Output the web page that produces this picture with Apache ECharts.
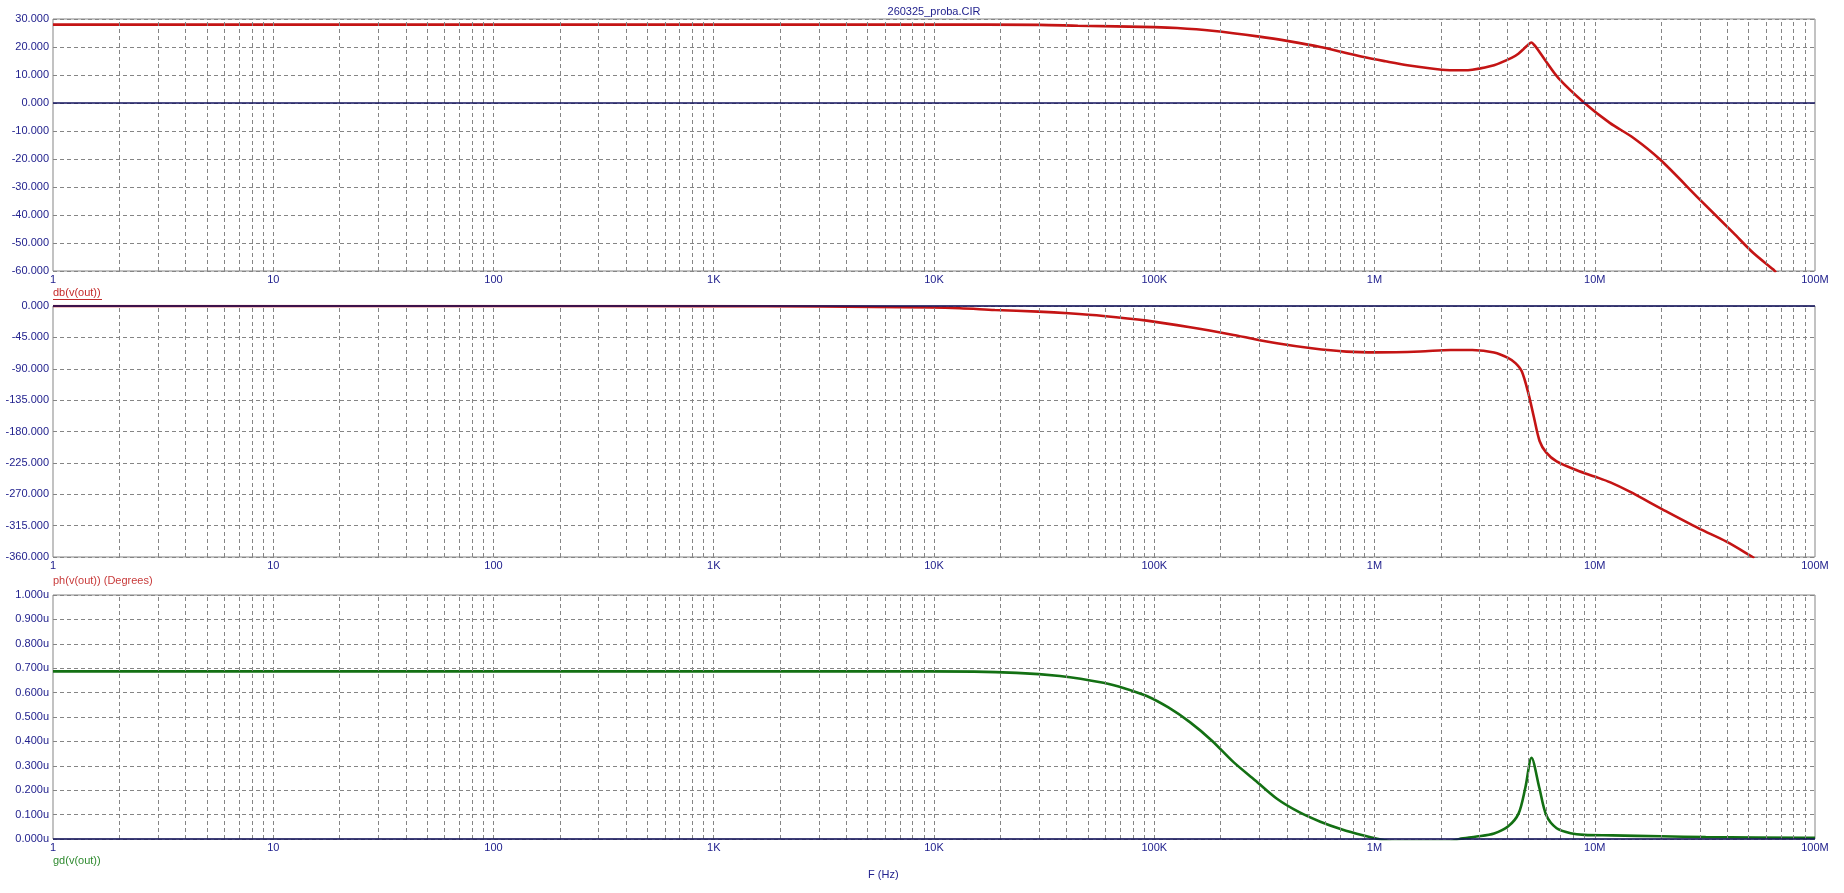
<!DOCTYPE html>
<html><head><meta charset="utf-8">
<script src="https://cdn.jsdelivr.net/npm/echarts@6/dist/echarts.min.js"></script>
<style>html,body{margin:0;padding:0;background:#fff}#c{width:1844px;height:893px}</style>
</head><body><div id="c"></div>
<script>
// ---------- data ----------
const chartTitle = '260325_proba.CIR';
const xTickLabels = ['1','10','100','1K','10K','100K','1M','10M','100M'];
const xAxisTitle = 'F (Hz)';
const traceNames = ['db(v(out))', 'ph(v(out)) (Degrees)', 'gd(v(out))'];

// magnitude, dB
const magFreq = [1, 10, 100, 1000, 10000, 30000, 45000, 100000, 127000, 183000, 300000, 413000, 568000, 713000, 893000, 1120000, 1410000, 2020000, 2500000, 2780000, 3490000, 4190000, 4500000, 4800000, 5000000, 5150000, 5300000, 5500000, 6000000, 6840000, 8900000, 11700000, 15000000, 19800000, 30000000, 42600000, 52500000, 64700000, 66500000];
const magDb   = [28.0, 28.0, 28.0, 28.0, 28.0, 27.9, 27.6, 27.1, 26.8, 25.8, 23.7, 22.0, 20.0, 18.2, 16.4, 14.9, 13.5, 11.9, 11.7, 11.9, 13.5, 16.1, 17.6, 19.6, 20.9, 21.6, 20.8, 19.2, 14.9, 8.9, 0.3, -7.1, -12.5, -20.2, -34.5, -46.4, -53.6, -59.5, -60.5];

// phase, degrees
const phFreq = [1, 100, 1000, 3000, 9550, 13120, 18880, 29720, 40830, 58750, 92470, 145600, 229100, 360600, 518800, 746400, 1026000, 1614000, 2218000, 2780000, 3491000, 4036000, 4365000, 4667000, 5012000, 5297000, 5623000, 6012000, 6714000, 8337000, 10070000, 11780000, 14350000, 20650000, 29650000, 39630000, 52120000, 53000000];
const phDeg  = [0.0, -0.02, -0.25, -0.7, -2.2, -3.3, -5.7, -8.1, -10.5, -14.3, -21.0, -30.5, -41.5, -53.5, -60.6, -65.4, -66.5, -65.2, -63.0, -63.2, -66.8, -74.5, -82.0, -94.0, -127.0, -160.0, -194.0, -210.0, -223.0, -236.0, -245.0, -253.0, -266.0, -293.0, -319.0, -338.0, -360.0, -361.5];

// group delay, microseconds
const gdFreq = [1, 1000, 9550, 23700, 37300, 58750, 73600, 92470, 115900, 145600, 182800, 229100, 287700, 360600, 452900, 567500, 712800, 893300, 1026000, 1200000, 2200000, 2427000, 2911000, 3491000, 4036000, 4508000, 4842000, 5164000, 5598000, 6026000, 6714000, 7762000, 8970000, 12000000, 19950000, 31900000, 91200000, 100000000];
const gdUs   = [0.687, 0.687, 0.687, 0.681, 0.668, 0.640, 0.617, 0.586, 0.539, 0.478, 0.403, 0.315, 0.240, 0.165, 0.111, 0.071, 0.039, 0.014, 0.001, -0.01, -0.01, 0.0, 0.010, 0.023, 0.051, 0.104, 0.211, 0.333, 0.211, 0.097, 0.044, 0.024, 0.017, 0.015, 0.011, 0.008, 0.005, 0.005];

// y-axis ranges
const yMin = [-60, -360, 0];
const yMax = [30, 0, 1];
const yStep = [10, 45, 0.1];
const ySuffix = ['', '', 'u'];

// ---------- styling ----------
const NAVY = '#22228e';
const ZERO = '#12125e';
const GRIDC = '#858585';
const RED = '#c41414';
const GREEN = '#137013';
const FONT = '"Liberation Sans", Arial, sans-serif';

const gridBoxes = [
  {top: 19, height: 252},
  {top: 306, height: 251},
  {top: 595, height: 244}
];
const LEFT = 53, RIGHT = 1844 - 1815;

// vertical grid lines (1..9 per decade) at real frequencies, drawn through the log axis
const vLines = [];
for (let k = 0; k < 8; k++) {
  for (let m = 1; m <= 9; m++) {
    const v = m * Math.pow(10, k);
    if (v > 1) vLines.push(v);
  }
}

const zip = (a, b) => a.map((v, i) => [v, b[i]]);

const grids = gridBoxes.map(g => ({
  left: LEFT, right: RIGHT, top: g.top, height: g.height,
  show: true, borderColor: GRIDC, borderWidth: 1, backgroundColor: '#fff',
  containLabel: false, outerBoundsMode: 'none'
}));

const xAxes = gridBoxes.map((g, i) => ({
  type: 'log', logBase: 10, gridIndex: i, min: 1, max: 1e8, splitNumber: 8,
  axisLine: {show: false}, axisTick: {show: false}, splitLine: {show: false},
  axisLabel: {
    show: true, color: NAVY, fontSize: 11, fontFamily: FONT, margin: 3,
    showMinLabel: true, showMaxLabel: true,
    formatter: v => xTickLabels[Math.round(Math.log10(v))] || ''
  }
}));

const yAxes = gridBoxes.map((g, i) => ({
  type: 'value', gridIndex: i, min: yMin[i], max: yMax[i], interval: yStep[i],
  axisLine: {show: false}, axisTick: {show: false},
  splitLine: {show: true, lineStyle: {color: GRIDC, width: 1, type: [4, 3]}},
  axisLabel: {
    color: NAVY, fontSize: 11, fontFamily: FONT, margin: 4,
    formatter: v => v.toFixed(3) + ySuffix[i]
  }
}));

const gridSeries = gridBoxes.map((g, i) => ({
  type: 'line', xAxisIndex: i, yAxisIndex: i, data: [], z: 1, silent: true,
  animation: false,
  markLine: {
    silent: true, animation: false, symbol: ['none', 'none'], label: {show: false},
    lineStyle: {color: GRIDC, width: 1, type: [4, 3]},
    data: vLines.map(v => ({xAxis: v})).concat([
      {yAxis: 0, lineStyle: {color: ZERO, width: 1.5, type: 'solid'}}
    ])
  }
}));

const lineBase = {type: 'line', showSymbol: false, symbol: 'none', smooth: 0.3,
  animation: false, z: 3, clip: true};

const dataSeries = [
  Object.assign({}, lineBase, {name: traceNames[0], xAxisIndex: 0, yAxisIndex: 0,
    data: zip(magFreq, magDb), lineStyle: {color: RED, width: 2.6}}),
  Object.assign({}, lineBase, {name: traceNames[1], xAxisIndex: 1, yAxisIndex: 1,
    data: zip(phFreq, phDeg), lineStyle: {color: RED, width: 2.6}}),
  Object.assign({}, lineBase, {name: traceNames[2], xAxisIndex: 2, yAxisIndex: 2,
    data: zip(gdFreq, gdUs), lineStyle: {color: GREEN, width: 2.6}})
];

const txt = (text, x, y, fill, align) => ({
  type: 'text', x: x, y: y, silent: true,
  style: {text: text, fill: fill, font: '11px ' + FONT, textAlign: align || 'left', textVerticalAlign: 'middle'}
});

const chart = echarts.init(document.getElementById('c'), null, {renderer: 'canvas'});
chart.setOption({
  backgroundColor: '#fff',
  animation: false,
  grid: grids,
  xAxis: xAxes,
  yAxis: yAxes,
  series: gridSeries.concat(dataSeries),
  graphic: [
    txt(chartTitle, 934, 12, NAVY, 'center'),
    txt(traceNames[0], 53, 293, '#c42a2a'),
    {type: 'line', silent: true, shape: {x1: 53, y1: 299.5, x2: 102, y2: 299.5}, style: {stroke: '#c42a2a', lineWidth: 1}},
    txt(traceNames[1], 53, 581, '#c83a3a'),
    txt(traceNames[2], 53, 861, '#2f8a2f'),
    txt(xAxisTitle, 868, 875, NAVY)
  ]
});
</script>
</body></html>
